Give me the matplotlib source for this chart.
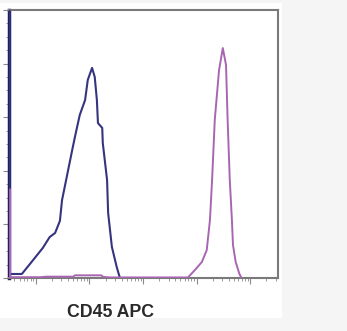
import numpy as np
import matplotlib.pyplot as plt
from matplotlib.patches import Rectangle
from matplotlib.ticker import MultipleLocator, LogLocator, NullFormatter

# Histogram traces: x in log10(fluorescence), y in % of max
blue_logx = [0.51, 0.51, 0.74, 0.95, 1.13, 1.26, 1.36, 1.45, 1.49, 1.54, 1.68, 1.73,
             1.82, 1.92, 1.97, 2.05, 2.10, 2.14, 2.16, 2.24, 2.25, 2.33, 2.35, 2.42,
             2.51, 2.57]
blue_pct = [110, 1.5, 1.5, 6.7, 11.2, 15.3, 16.8, 21.3, 29.1, 34.0, 47.8, 52.6,
            60.8, 66.4, 73.9, 78.4, 75.0, 66.4, 57.8, 56.0, 50.4, 36.6, 24.3, 11.6,
            4.1, 0.0]

pink_logx = [0.52, 0.52, 1.08, 1.20, 1.70, 1.73, 2.22, 2.26, 2.40, 3.84, 3.97, 4.10,
             4.19, 4.25, 4.29, 4.34, 4.42, 4.49, 4.55, 4.58, 4.62, 4.66, 4.68, 4.73,
             4.80, 4.84]
pink_pct = [33.0, 0.3, 0.3, 0.5, 0.5, 1.0, 1.0, 0.4, 0.2, 0.2, 3.0, 6.0,
            10.4, 21.6, 36.6, 59.0, 77.6, 85.8, 79.5, 59.0, 36.6, 21.6, 12.3, 6.0,
            1.5, 0.0]

xlabel = 'CD45 APC'

W, H = 347, 331
fig = plt.figure(figsize=(W / 100, H / 100), dpi=100, facecolor='#f5f5f5')
fig.patches.append(Rectangle((0, 13 / H), 282 / W, 315 / H, transform=fig.transFigure,
                             facecolor='white', edgecolor='none', zorder=-10))

ax = fig.add_axes([9 / W, 53 / H, 269 / W, 268 / H])
ax.set_facecolor('white')

ax.plot(10 ** np.array(blue_logx), blue_pct, color='#35357f', lw=1.5, zorder=3)
ax.plot(10 ** np.array(pink_logx), pink_pct, color='#a866b2', lw=1.4, zorder=4)

ax.set_xscale('log')
ax.set_xlim(10 ** 0.5, 10 ** 5.52)
ax.set_ylim(0, 100)

ax.xaxis.set_major_locator(LogLocator(base=10, numticks=10))
ax.xaxis.set_minor_locator(LogLocator(base=10, subs=np.arange(2, 10), numticks=20))
ax.xaxis.set_major_formatter(NullFormatter())
ax.xaxis.set_minor_formatter(NullFormatter())
ax.yaxis.set_major_locator(MultipleLocator(20))
ax.yaxis.set_minor_locator(MultipleLocator(5))
ax.yaxis.set_major_formatter(NullFormatter())

ax.tick_params(which='major', direction='out', length=4, width=0.8, color='#8a8a8a')
ax.tick_params(which='minor', direction='out', length=2, width=0.7, color='#9a9a9a')

for side in ['top', 'right', 'bottom']:
    ax.spines[side].set_color('#7a7a7a')
    ax.spines[side].set_linewidth(1.5)
ax.spines['left'].set_color('#1f1f5c')
ax.spines['left'].set_linewidth(2.5)

fig.text(111 / W, 14 / H, xlabel, ha='center', va='baseline', fontsize=12.8,
         fontweight='bold', family='Liberation Sans', color='#2a2a2a')

fig.savefig('out.png', dpi=100, facecolor=fig.get_facecolor())
